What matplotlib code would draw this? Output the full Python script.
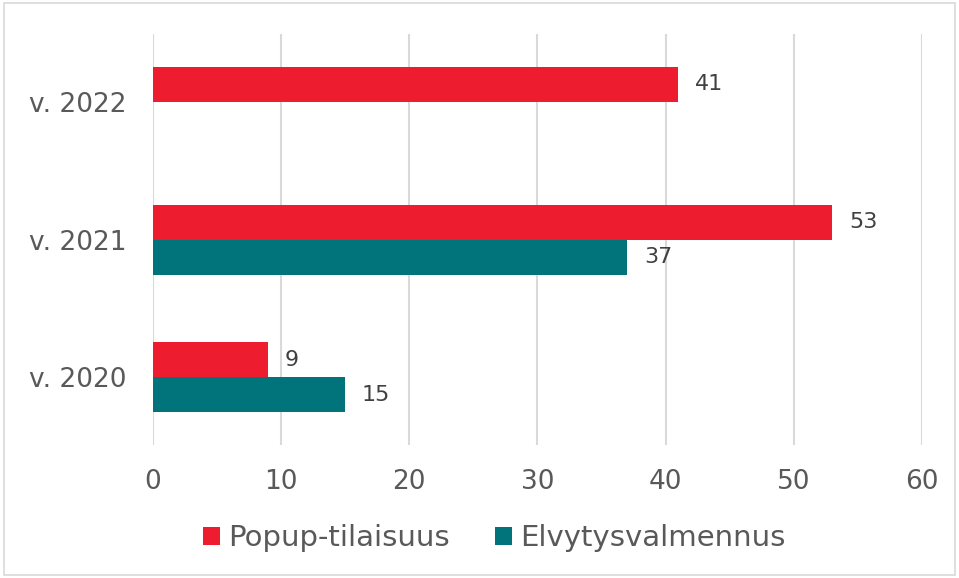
import matplotlib
matplotlib.use("Agg")
import matplotlib.pyplot as plt
import numpy as np
from matplotlib.patches import Rectangle

categories = ["v. 2020", "v. 2021", "v. 2022"]
popup = [9, 53, 41]
elvytys = [15, 37, np.nan]
series_names = ["Popup-tilaisuus", "Elvytysvalmennus"]
colors = ["#ED1C2E", "#00747A"]
xticks = [0, 10, 20, 30, 40, 50, 60]

plt.rcParams['font.family'] = ['DejaVu Sans']

fig = plt.figure(figsize=(9.59, 5.78), dpi=100)
ax = fig.add_axes([0.1595, 0.2301, 0.8019, 0.7109])

y = np.arange(len(categories))
h = 0.254
b1 = ax.barh(y + h / 2, popup, height=h, color=colors[0], label=series_names[0], zorder=3)
b2 = ax.barh(y - h / 2, elvytys, height=h, color=colors[1], label=series_names[1], zorder=3)

for bars, vals in ((b1, popup), (b2, elvytys)):
    for rect, v in zip(bars, vals):
        if np.isnan(v):
            continue
        ax.annotate(f"{v:g}", (v, rect.get_y() + rect.get_height() / 2),
                    xytext=(12, 0), textcoords="offset points",
                    va="center", ha="left", fontsize=16, color="#404040")

ax.set_xlim(0, 60)
ax.set_ylim(-0.49, 2.49)
ax.set_xticks(xticks)
ax.set_yticks(y)
ax.set_yticklabels(categories)
ax.tick_params(axis="both", length=0, labelsize=19, colors="#595959")
ax.tick_params(axis="x", pad=17)
ax.tick_params(axis="y", pad=19)
ax.grid(axis="x", color="#D9D9D9", linewidth=1.5, zorder=0)
for s in ax.spines.values():
    s.set_visible(False)

leg = fig.legend(handles=[b1, b2], labels=series_names, loc="center",
                 bbox_to_anchor=(0.515, 0.069), ncol=2, frameon=False,
                 fontsize=21, handlelength=0.6, handleheight=0.6,
                 handletextpad=0.26, columnspacing=1.56)
for t in leg.get_texts():
    t.set_color("#595959")

fig.patches.append(Rectangle((0.004, 0.006), 0.992, 0.988, transform=fig.transFigure,
                             fill=False, edgecolor="#D9D9D9", linewidth=1.2))

fig.savefig("out.png", dpi=100)
